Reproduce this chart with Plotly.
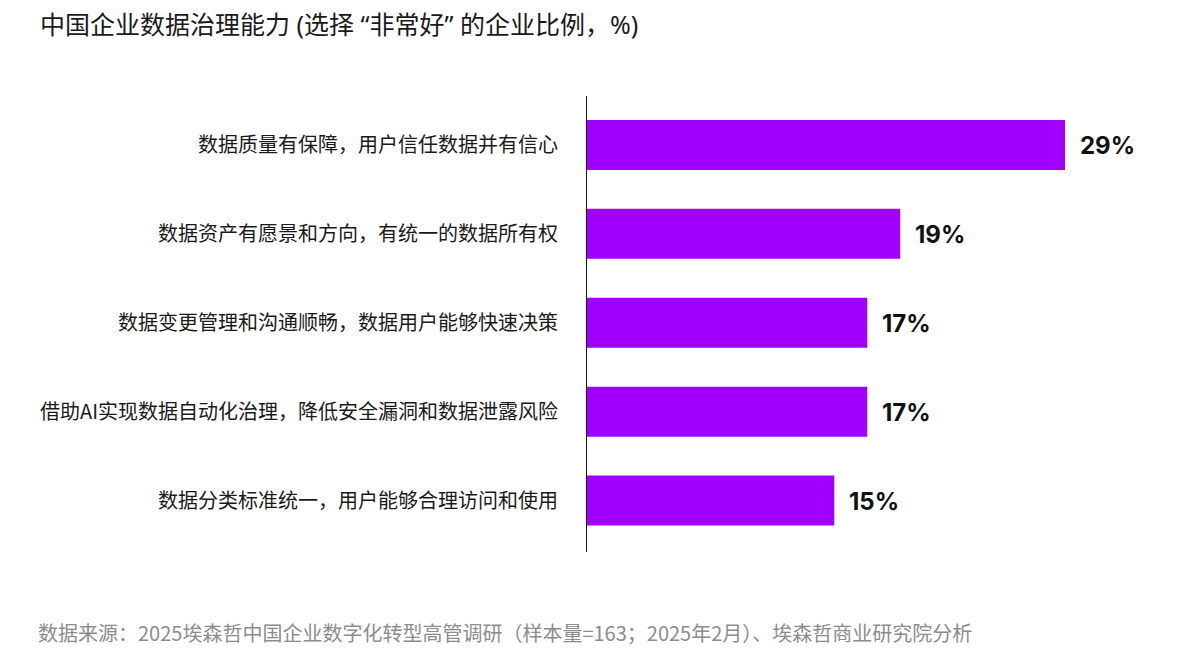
import plotly.graph_objects as go

categories = [
    "数据质量有保障，用户信任数据并有信心",
    "数据资产有愿景和方向，有统一的数据所有权",
    "数据变更管理和沟通顺畅，数据用户能够快速决策",
    "借助AI实现数据自动化治理，降低安全漏洞和数据泄露风险",
    "数据分类标准统一，用户能够合理访问和使用",
]
values = [29, 19, 17, 17, 15]
value_labels = ["29%", "19%", "17%", "17%", "15%"]

title_text = "中国企业数据治理能力 (选择 “非常好” 的企业比例，%)"
source_text = "数据来源：2025埃森哲中国企业数字化转型高管调研（样本量=163；2025年2月）、埃森哲商业研究院分析"

CJK = "Noto Sans CJK SC"
MIXED = "Noto Sans, Noto Sans CJK SC"
PURPLE = "#A100FF"

# page body has an 8px margin; figure is laid out in page coords minus 8
OFF = 8
W, H = 1164, 642
L, R, T, B = 587 - OFF, W - (1164 - OFF), 96 - OFF, H - (552 - OFF)

fig = go.Figure()
fig.add_trace(go.Bar(
    x=values,
    y=categories,
    orientation="h",
    marker=dict(color=PURPLE, line=dict(width=0)),
    width=0.5625,
    hoverinfo="skip",
))

for cat, v, lab in zip(categories, values, value_labels):
    fig.add_annotation(
        x=v, y=cat, xref="x", yref="y",
        text=lab, showarrow=False,
        xanchor="left", yanchor="middle", xshift=13, yshift=-1,
        font=dict(family="Inter", size=24, color="#111111", weight="bold"),
    )

plot_w = W - L - R
plot_h = H - T - B

fig.update_layout(
    width=W, height=H,
    margin=dict(l=L, r=R, t=T, b=B, pad=0),
    paper_bgcolor="white",
    plot_bgcolor="white",
    showlegend=False,
    font=dict(family=CJK, color="#1a1a1a"),
    title=dict(
        text=title_text,
        xref="container", yref="container",
        x=(40 - OFF) / W, y=1 - (25 - OFF) / H,
        xanchor="left", yanchor="middle",
        font=dict(family=MIXED, size=25, color="#1a1a1a"),
    ),
    xaxis=dict(
        range=[0, 35],
        showgrid=False, zeroline=False, showline=False,
        showticklabels=False, ticks="",
        fixedrange=True,
    ),
    yaxis=dict(
        categoryorder="array",
        categoryarray=categories,
        range=[4.579, -0.551],
        showgrid=False, zeroline=False,
        showline=True, linecolor="#111111", linewidth=1,
        ticks="", ticklabelstandoff=24,
        tickfont=dict(family=CJK, size=20, color="#1a1a1a"),
        fixedrange=True,
    ),
)

fig.add_annotation(
    xref="paper", yref="paper",
    x=-(587 - 36) / plot_w, y=-(632 - 552) / plot_h,
    text=source_text, showarrow=False,
    xanchor="left", yanchor="middle",
    font=dict(family=CJK, size=20, color="#8c8c8c"),
)

fig.write_html("out.html")
